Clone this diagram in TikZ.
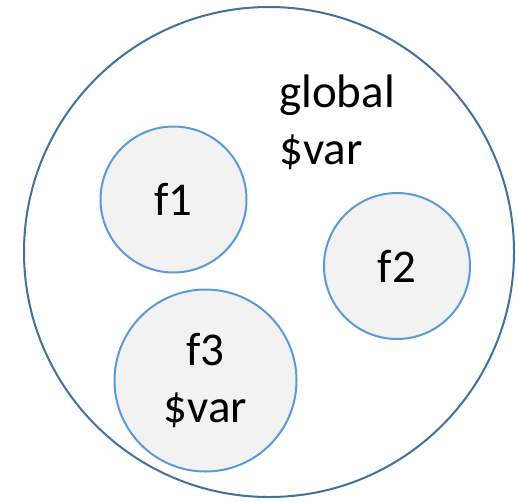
\documentclass[tikz,border=0pt]{standalone}
\usepackage{fontspec}
\setmainfont{Carlito}
\definecolor{outerblue}{HTML}{41719C}
\definecolor{innerblue}{HTML}{5B9BD5}
\definecolor{innerfill}{HTML}{F2F2F2}
\begin{document}
\begin{tikzpicture}[x=1pt,y=1pt,
  bigfont/.style={font=\fontsize{47}{57}\selectfont},
  scopecircle/.style={circle, draw=outerblue, line width=2pt, inner sep=0pt, minimum size=490pt},
  funccircle/.style={circle, draw=innerblue, fill=innerfill, line width=2pt, inner sep=0pt, align=center, bigfont}]
\useasboundingbox (0,0) rectangle (518,-501);
\node[scopecircle] (outer) at (269,-252) {};
\node[funccircle, minimum size=146pt] (f1) at (173.5,-199.5) {f1};
\node[funccircle, minimum size=146pt] (f2) at (397,-266) {f2};
\node[funccircle, minimum size=182pt] (f3) at (205.5,-380.5) {f3\\\$var};
\node[bigfont, align=left, inner sep=0pt, anchor=west] (global) at (279,-122.5) {global\\\$var};
\end{tikzpicture}
\end{document}
